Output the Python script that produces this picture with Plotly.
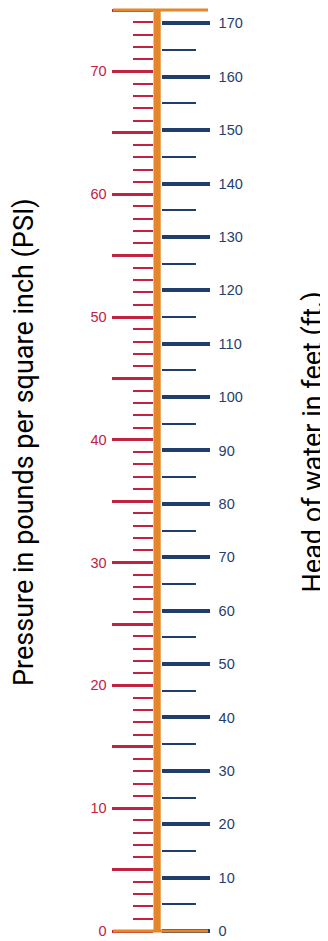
import plotly.graph_objects as go

# ---- data ----
PSI_MIN = 0
PSI_MAX = 75
FT_PER_PSI = 2.3
psi_labeled = [0, 10, 20, 30, 40, 50, 60, 70]
psi_unlabeled = [5, 15, 25, 35, 45, 55, 65, 75]
psi_minor_step = 1
ft_labeled = [0, 10, 20, 30, 40, 50, 60, 70, 80, 90, 100, 110, 120, 130, 140, 150, 160, 170]
ft_minor_step = 5
left_title = "Pressure in pounds per square inch (PSI)"
right_title = "Head of water in feet (ft.)"

RED = "#C1223F"
NAVY = "#1F3E6D"
ORANGE = "#E4872A"

OFF = 8  # page body margin
W, H = 328 - OFF, 941 - OFF


def px(x):
    return (x - OFF) / W


psi_ticks = sorted(psi_labeled + psi_unlabeled)
psi_text = [str(v) if v in psi_labeled else "" for v in psi_ticks]

fig = go.Figure()
fig.add_trace(go.Scatter(x=[0.5], y=[PSI_MIN], mode="markers", marker=dict(opacity=0),
                         hoverinfo="skip", showlegend=False, yaxis="y"))
fig.add_trace(go.Scatter(x=[0.5], y=[PSI_MIN * FT_PER_PSI], mode="markers", marker=dict(opacity=0),
                         hoverinfo="skip", showlegend=False, yaxis="y2"))

fig.update_layout(
    width=W, height=H,
    margin=dict(l=0, r=0, t=10 - OFF, b=10),
    paper_bgcolor="white",
    plot_bgcolor=ORANGE,
    showlegend=False,
    xaxis=dict(domain=[px(153.5), px(160.7)], range=[0, 1], visible=False, fixedrange=True),
    yaxis=dict(
        range=[PSI_MIN, PSI_MAX], side="left",
        tickmode="array", tickvals=psi_ticks, ticktext=psi_text,
        ticks="outside", ticklen=41, tickwidth=3, tickcolor=RED,
        tickfont=dict(family="Liberation Sans, Arial, sans-serif", size=14.5, color=RED),
        ticklabelstandoff=2,
        showgrid=False, zeroline=False, showline=False,
        minor=dict(dtick=psi_minor_step, tick0=0, ticks="outside", ticklen=20,
                   tickwidth=2, tickcolor=RED, showgrid=False),
    ),
    yaxis2=dict(
        range=[PSI_MIN * FT_PER_PSI, PSI_MAX * FT_PER_PSI], side="right", overlaying="y", anchor="x",
        tickmode="array", tickvals=ft_labeled, ticktext=[str(v) for v in ft_labeled],
        ticks="outside", ticklen=48, tickwidth=3.5, tickcolor=NAVY,
        tickfont=dict(family="Liberation Sans, Arial, sans-serif", size=14.5, color=NAVY),
        ticklabelstandoff=6,
        showgrid=False, zeroline=False, showline=False,
        minor=dict(dtick=ft_minor_step, tick0=0, ticks="outside", ticklen=34,
                   tickwidth=2, tickcolor=NAVY, showgrid=False),
    ),
)

# top and bottom caps of the scale (bottom = PSI_MIN, top = PSI_MAX of the axis domain)
for yv in (0, 1):
    fig.add_shape(type="line", xref="paper", yref="y domain", x0=px(113), x1=px(208), y0=yv, y1=yv,
                  line=dict(color=ORANGE, width=3), layer="above")

fig.add_annotation(text=left_title, xref="paper", yref="paper", x=px(24), y=0.531,
                   textangle=-90, showarrow=False, xanchor="center", yanchor="middle",
                   font=dict(family="Roboto, Open Sans, sans-serif", size=27, color="black"))
fig.add_annotation(text=right_title, xref="paper", yref="paper", x=px(312.5), y=0.531,
                   textangle=-90, showarrow=False, xanchor="center", yanchor="middle",
                   font=dict(family="Roboto, Open Sans, sans-serif", size=27, color="black"))

fig.write_html("out.html")
